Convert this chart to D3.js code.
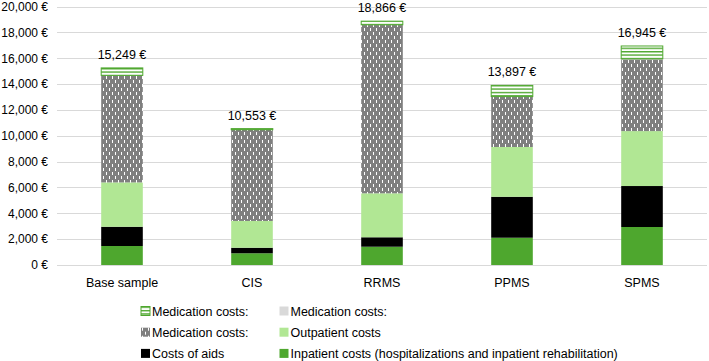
<!DOCTYPE html>
<html>
<head>
<meta charset="utf-8">
<script src="https://cdn.jsdelivr.net/npm/d3@7"></script>
<style>
  body { margin: 0; background: #fff; }
  svg { font-family: "Liberation Sans", Arial, sans-serif; }
</style>
</head>
<body>
<div id="chart"></div>
<script>
// Data
var categories = ["Base sample", "CIS", "RRMS", "PPMS", "SPMS"];
var inpatient  = [1470, 906, 1415, 2110, 2940];
var aids       = [1490, 430, 730, 3170, 3170];
var outpatient = [3430, 2070, 3400, 3850, 4250];
var medDotted  = [8250, 7040, 13020, 3870, 5550];
var medGrey    = [30, 20, 20, 30, 40];
var medStriped = [579, 87, 281, 867, 995];
var totals     = [15249, 10553, 18866, 13897, 16945];
var yTicks     = [0, 2000, 4000, 6000, 8000, 10000, 12000, 14000, 16000, 18000, 20000];

var seriesKeys = ["inpatient", "aids", "outpatient", "medDotted", "medGrey", "medStriped"];
var seriesNames = {
    inpatient: "Inpatient costs (hospitalizations and inpatient rehabilitation)",
    aids: "Costs of aids",
    outpatient: "Outpatient costs",
    medDotted: "Medication costs:",
    medGrey: "Medication costs:",
    medStriped: "Medication costs:"
};

var rows = categories.map(function(c, i) {
    return {
        category: c,
        inpatient: inpatient[i],
        aids: aids[i],
        outpatient: outpatient[i],
        medDotted: medDotted[i],
        medGrey: medGrey[i],
        medStriped: medStriped[i],
        total: totals[i]
    };
});

var width = 709, height = 361;
var svg = d3.select('#chart').append('svg')
    .attr('width', width)
    .attr('height', height);

// patterns
var defs = svg.append('defs');
var dots = defs.append('pattern')
    .attr('id', 'dotted')
    .attr('patternUnits', 'userSpaceOnUse')
    .attr('width', 6).attr('height', 8);
dots.append('rect').attr('width', 6).attr('height', 8).attr('fill', '#7f7f7f');
dots.append('rect').attr('x', 1).attr('y', 0).attr('width', 1).attr('height', 3).attr('fill', '#fff');
dots.append('rect').attr('x', 4).attr('y', 4).attr('width', 1).attr('height', 3).attr('fill', '#fff');

var stripes = defs.append('pattern')
    .attr('id', 'striped')
    .attr('patternUnits', 'userSpaceOnUse')
    .attr('width', 6).attr('height', 3.4);
stripes.append('rect').attr('width', 6).attr('height', 3.4).attr('fill', '#fff');
stripes.append('rect').attr('y', 0).attr('width', 6).attr('height', 1.4).attr('fill', '#4ea72e');

var fills = {
    inpatient: '#4ea72e',
    aids: '#000000',
    outpatient: '#b1e794',
    medDotted: 'url(#dotted)',
    medGrey: '#d9d9d9',
    medStriped: 'url(#striped)'
};

var margin = { left: 57, right: 2 };

var x = d3.scaleBand()
    .domain(categories)
    .range([margin.left, width - margin.right])
    .paddingInner(0.68)
    .paddingOuter(0.34);

var y = d3.scaleLinear()
    .domain([0, 20000])
    .range([265, 6.5]);

// gridlines
svg.append('g')
    .selectAll('line')
    .data(yTicks)
    .enter().append('line')
    .attr('x1', margin.left)
    .attr('x2', width - margin.right)
    .attr('y1', function(d) { return Math.round(y(d)) + 0.5; })
    .attr('y2', function(d) { return Math.round(y(d)) + 0.5; })
    .attr('stroke', '#d9d9d9')
    .attr('stroke-width', 1);

// y axis labels
var fmt = d3.format(',');
var yAxis = d3.axisLeft(y)
    .tickValues(yTicks)
    .tickSize(0)
    .tickPadding(9)
    .tickFormat(function(d) { return fmt(d) + ' €'; });
var yg = svg.append('g')
    .attr('transform', 'translate(' + margin.left + ',0)')
    .call(yAxis);
yg.select('.domain').remove();
yg.selectAll('text')
    .style('font-size', '12px')
    .attr('fill', '#000');

// x axis labels
var xAxis = d3.axisBottom(x).tickSize(0).tickPadding(13);
var xg = svg.append('g')
    .attr('transform', 'translate(0,' + y(0) + ')')
    .call(xAxis);
xg.select('.domain').remove();
xg.selectAll('text')
    .style('font-size', '12.5px')
    .attr('fill', '#000');

// stacked bars
var stack = d3.stack().keys(seriesKeys);
var layers = stack(rows);

svg.append('g')
    .selectAll('g')
    .data(layers)
    .enter().append('g')
    .attr('fill', function(d) { return fills[d.key]; })
    .attr('stroke', function(d) { return d.key === 'medStriped' ? '#4ea72e' : null; })
    .attr('stroke-width', 1)
    .selectAll('rect')
    .data(function(d) { return d; })
    .enter().append('rect')
    .attr('x', function(d) { return x(d.data.category); })
    .attr('width', x.bandwidth())
    .attr('y', function(d) { return y(d[1]); })
    .attr('height', function(d) { return y(d[0]) - y(d[1]); });

// total labels
svg.append('g')
    .selectAll('text')
    .data(rows)
    .enter().append('text')
    .attr('x', function(d) { return x(d.category) + x.bandwidth() / 2; })
    .attr('y', function(d) { return y(d.total) - 9; })
    .attr('text-anchor', 'middle')
    .style('font-size', '12.5px')
    .text(function(d) { return fmt(d.total) + ' €'; });

// legend
var legendOrder = ["medStriped", "medGrey", "medDotted", "outpatient", "aids", "inpatient"];
var legend = svg.append('g')
    .selectAll('g')
    .data(legendOrder)
    .enter().append('g')
    .attr('transform', function(d, i) {
        var col = i % 2, row = Math.floor(i / 2);
        return 'translate(' + (141 + col * 138.5) + ',' + (306.5 + row * 21.2) + ')';
    });

legend.append('rect')
    .attr('width', 9)
    .attr('height', 9)
    .attr('fill', function(d) { return fills[d]; })
    .attr('stroke', function(d) { return d === 'medStriped' ? '#4ea72e' : null; });

legend.append('text')
    .attr('x', 11)
    .attr('y', 9)
    .style('font-size', '12.5px')
    .text(function(d) { return seriesNames[d]; });
</script>
</body>
</html>
